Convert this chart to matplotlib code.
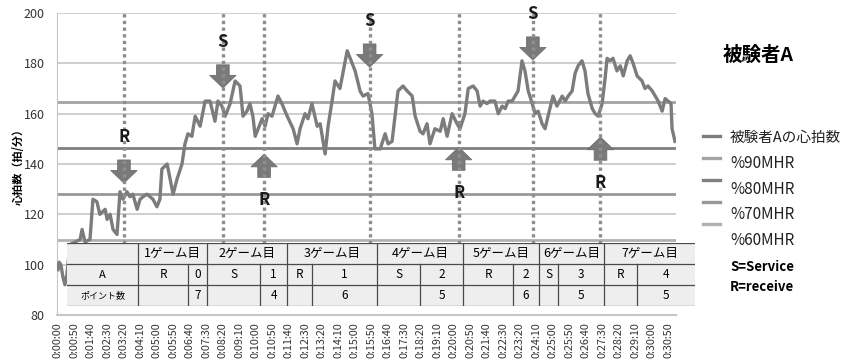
import matplotlib
matplotlib.use('Agg')
import matplotlib.pyplot as plt
from matplotlib.lines import Line2D
from matplotlib.patches import Rectangle

plt.rcParams['font.family'] = ['Noto Sans CJK JP', 'DejaVu Sans']

# Heart rate of subject A (elapsed seconds, bpm)
time_s = [0, 3, 9, 15, 21, 27, 36, 52, 67, 73, 82, 97, 106, 118, 127, 143, 149, 158,
          167, 179, 188, 197, 209, 218, 227, 240, 249, 258, 270, 288, 300, 309, 315,
          331, 340, 349, 361, 376, 385, 394, 406, 416, 431, 446, 461, 476, 485, 497,
          507, 522, 537, 552, 561, 573, 582, 591, 598, 607, 619, 628, 637, 649, 667,
          679, 695, 713, 725, 734, 749, 758, 770, 786, 795, 810, 819, 831, 840, 855,
          877, 892, 901, 916, 925, 940, 952, 961, 977, 992, 1001, 1013, 1022, 1031,
          1046, 1059, 1074, 1083, 1098, 1107, 1119, 1128, 1143, 1159, 1168, 1180,
          1195, 1210, 1219, 1234, 1244, 1259, 1271, 1280, 1289, 1301, 1310, 1325,
          1335, 1347, 1356, 1365, 1377, 1386, 1395, 1407, 1416, 1426, 1438, 1447,
          1456, 1468, 1477, 1486, 1501, 1513, 1529, 1538, 1547, 1559, 1568, 1577,
          1589, 1598, 1607, 1620, 1629, 1638, 1650, 1659, 1665, 1674, 1683, 1695,
          1705, 1714, 1726, 1735, 1744, 1756, 1771, 1780, 1789, 1802, 1811, 1820,
          1832, 1841, 1850, 1859, 1862, 1871]
heart_rate = [98, 101, 100, 95, 92, 96, 108, 109, 110, 114, 109, 110, 126, 125, 120, 122,
              118, 120, 114, 112, 129, 126, 129, 127, 128, 122, 126, 127, 128, 126, 123,
              126, 138, 140, 134, 128, 134, 140, 148, 152, 151, 159, 155, 165, 165, 157,
              165, 163, 159, 164, 173, 171, 159, 161, 164, 159, 151, 154, 158, 155, 160,
              159, 167, 164, 159, 154, 148, 154, 160, 158, 164, 155, 156, 144, 155, 165,
              173, 170, 185, 180, 177, 169, 167, 168, 160, 146, 146, 152, 148, 149, 159,
              169, 171, 169, 167, 159, 153, 152, 156, 148, 154, 153, 158, 151, 160, 156,
              154, 160, 170, 171, 169, 163, 165, 164, 165, 165, 160, 163, 162, 165, 165,
              167, 169, 181, 177, 169, 164, 160, 161, 156, 154, 159, 167, 163, 167, 165,
              167, 169, 176, 179, 181, 177, 168, 162, 160, 159, 164, 174, 182, 181, 182,
              177, 179, 175, 181, 183, 180, 175, 173, 170, 171, 169, 167, 165, 161, 166,
              165, 164, 154, 149]

max_hr = 183
zone_pct = [90, 80, 70, 60]

# Service / receive events
event_time = [200, 500, 625, 945, 1215, 1440, 1645]
event_kind = ['R', 'S', 'R', 'S', 'R', 'S', 'R']

# Score table
games = ['1ゲーム目', '2ゲーム目', '3ゲーム目', '4ゲーム目', '5ゲーム目', '6ゲーム目', '7ゲーム目']
serve_side = ['R', 'S', 'R', 'S', 'R', 'S', 'R']
games_won = [0, 1, 1, 2, 2, 3, 4]
points = [7, 4, 6, 5, 6, 5, 5]

W, H = 847, 364
fig = plt.figure(figsize=(W / 100, H / 100), dpi=100)


def fx(px):
    return px / W


def fy(py):
    return 1 - py / H


ax = fig.add_axes([fx(57), fy(315), fx(676) - fx(57), fy(13) - fy(315)])

# grid
for v in range(80, 201, 20):
    ax.axhline(v, color='#c6c6c6', lw=1.2, zorder=1)

zone_colors = ['#a4a4a4', '#808080', '#989898', '#b2b2b2']
for p, c in zip(zone_pct, zone_colors):
    ax.axhline(max_hr * p / 100, color=c, lw=2.0, zorder=2)

hr_color = '#7c7c7c'
ax.plot(time_s, heart_rate, color=hr_color, lw=2.4, zorder=3, solid_joinstyle='round')

# event markers: dotted line, block arrow, letter
arrow_dir = ['down', 'down', 'up', 'down', 'up', 'down', 'up']
arrow_tip = [132.4, 170.2, 143.9, 178.5, 146.7, 181.3, 150.7]
arrow_len = 9.2
label_gap = 9.0
for t, k, d, tip in zip(event_time, event_kind, arrow_dir, arrow_tip):
    ax.vlines(t, 95, 200, colors='#8e8e8e', lw=2.4, linestyles=(0, (1, 1)), zorder=5)
    if d == 'down':
        tail = tip + arrow_len
        lab = tail + label_gap
    else:
        tail = tip - arrow_len
        lab = tail - label_gap
    ax.annotate('', xy=(t, tip), xytext=(t, tail),
                arrowprops=dict(arrowstyle='simple,head_length=0.65,head_width=1.35,tail_width=0.65',
                                mutation_scale=14, fc='#7a7a7a', ec='#6e6e6e', lw=0.6,
                                shrinkA=0, shrinkB=0), zorder=4)
    ax.text(t, lab, k, ha='center', va='center', fontsize=12, fontweight='bold',
            color='#1a1a1a', zorder=6)

ax.set_xlim(-3, 1874)
ax.set_ylim(80, 200)
ax.set_yticks(range(80, 201, 20))
ticks = list(range(0, 1851, 50))
ax.set_xticks(ticks)
ax.set_xticklabels(['0:%02d:%02d' % (s // 60, s % 60) for s in ticks], rotation=90,
                   fontsize=7.8, color='#333333')
ax.tick_params(axis='x', length=0, pad=5)
ax.tick_params(axis='y', length=0, pad=9, labelsize=9, labelcolor='#333333')
for s in ['top', 'right']:
    ax.spines[s].set_visible(False)
ax.spines['left'].set_color('#c6c6c6')
ax.spines['bottom'].set_color('#c6c6c6')
ax.spines['bottom'].set_linewidth(1.5)
ax.set_ylabel('心拍数（拍/分）', fontsize=8, fontweight='bold')
ax.yaxis.set_label_coords((25 - 57) / 619, 0.5)

# score table, laid out in pixel units
tx0, tx1, ty0, ty1 = 67, 695, 243, 306
tab = fig.add_axes([fx(tx0), fy(ty1), fx(tx1) - fx(tx0), fy(ty0) - fy(ty1)])
tab.set_xlim(tx0, tx1)
tab.set_ylim(ty1, ty0)
tab.axis('off')
tab.add_patch(Rectangle((tx0, ty0), tx1 - tx0, ty1 - ty0, fc='#eeeeee', ec='none'))
rows = [243, 264, 285, 306]
game_edges = [138, 207, 287, 377, 463, 539, 604, 695]
sub_edges = [188, 260, 312, 420, 513, 558, 637]
lc = '#4a4a4a'
for r in rows:
    tab.plot([tx0, tx1], [r, r], color=lc, lw=0.9)
for e in game_edges[:-1]:
    tab.plot([e, e], [rows[0], rows[3]], color=lc, lw=0.9)
for e in sub_edges:
    tab.plot([e, e], [rows[1], rows[3]], color=lc, lw=0.9)
ym = [(rows[i] + rows[i + 1]) / 2 for i in range(3)]
tab.text((tx0 + 138) / 2, ym[1], 'A', ha='center', va='center', fontsize=8)
tab.text((tx0 + 138) / 2, ym[2], 'ポイント数', ha='center', va='center', fontsize=6.5)
for i, g in enumerate(games):
    a, b, m = game_edges[i], game_edges[i + 1], sub_edges[i]
    tab.text((a + b) / 2, ym[0], g, ha='center', va='center', fontsize=9)
    tab.text((a + m) / 2, ym[1], serve_side[i], ha='center', va='center', fontsize=8.5)
    tab.text((m + b) / 2, ym[1], str(games_won[i]), ha='center', va='center', fontsize=8.5)
    tab.text((m + b) / 2, ym[2], str(points[i]), ha='center', va='center', fontsize=8.5)

# side legend
fig.text(fx(723), fy(55), '被験者A', fontsize=14, fontweight='bold', va='center')
leg_labels = ['被験者Aの心拍数'] + ['%%%dMHR' % p for p in zone_pct]
leg_colors = [hr_color] + zone_colors
for i, (lab, c) in enumerate(zip(leg_labels, leg_colors)):
    ly = 136 + 22 * i
    fig.add_artist(Line2D([fx(703), fx(720)], [fy(ly), fy(ly)], color=c, lw=2.4))
    fig.text(fx(730), fy(137.5 + 25.8 * i), lab, fontsize=11 if i else 10.5,
             va='center', color='#222222')
fig.text(fx(730), fy(267), 'S=Service', fontsize=9.5, fontweight='bold', va='center')
fig.text(fx(730), fy(287), 'R=receive', fontsize=9.5, fontweight='bold', va='center')

fig.savefig('out.png', dpi=100)
